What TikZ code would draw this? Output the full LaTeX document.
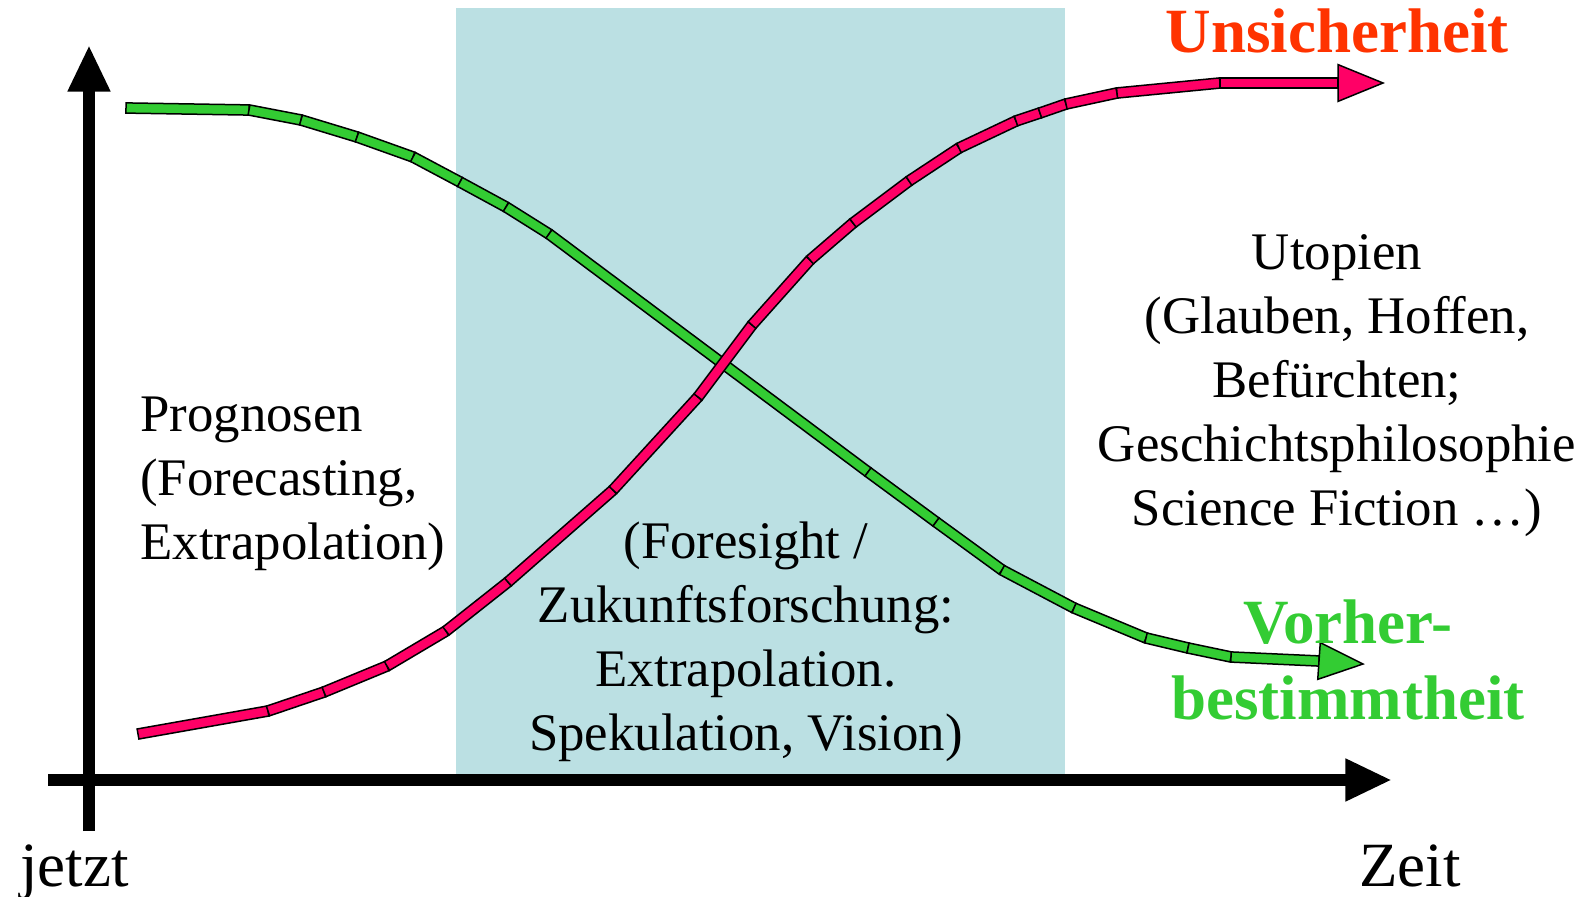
\documentclass[tikz,border=0pt]{standalone}
\usepackage{fontspec}
\setmainfont{Liberation Serif}
\usetikzlibrary{calc,arrows.meta}
\definecolor{boxblue}{HTML}{BBE0E3}
\definecolor{curvered}{HTML}{FF0066}
\definecolor{curvegreen}{HTML}{33CC33}
\definecolor{labelred}{HTML}{FF3300}
\newcommand\curvehw{2.55pt}
\newcommand\arrowhw{9.2pt}
\newcommand\curveseg[3]{%
  \filldraw[curveline,fill=#3] ($(#1)!\curvehw!90:(#2)$) -- ($(#2)!\curvehw!-90:(#1)$) -- ($(#2)!\curvehw!90:(#1)$) -- ($(#1)!\curvehw!-90:(#2)$) -- cycle;}
\newcommand\curvehead[3]{%
  \filldraw[curveline,fill=#3] ($(#1)!\arrowhw!90:(#2)$) -- (#2) -- ($(#1)!\arrowhw!-90:(#2)$) -- cycle;}
\tikzset{
  curveline/.style={draw=black,line width=0.75pt,line join=miter},
  axisline/.style={line width=6.35pt,-{Triangle[length=23.3pt,width=19.8pt]}},
  txt/.style={inner sep=0pt,font=\fontsize{26.4}{32}\selectfont},
  bigtxt/.style={inner sep=0pt,font=\fontsize{31.5}{38}\selectfont},
  boldlbl/.style={inner sep=0pt,font=\fontsize{31.5}{38}\selectfont\bfseries},
}
\begin{document}
\begin{tikzpicture}[x=0.5pt,y=-0.5pt]
\useasboundingbox (0,0) rectangle (1590,897);
% blue region
\fill[boxblue] (456,8) rectangle (1065,775);
% axes
\coordinate (hstart) at (48,780);
\coordinate (htip) at (1392,780);
\coordinate (vstart) at (89,831);
\coordinate (vtip) at (89,45);
\draw[axisline] (hstart) -- (htip);
\draw[axisline] (vstart) -- (vtip);
% green curve
\foreach \n/\p in {0/{126,108},1/{249,110},2/{301,120},3/{357,137},4/{413,157},5/{460,182},6/{506,207},7/{549,234},8/{868,472},9/{936,522},10/{1002,570},11/{1074,608},12/{1146,638},13/{1188,648},14/{1231,657},15/{1319,661},16/{1363,664}}
  {\coordinate (G\n) at (\p);}
\foreach \a/\b in {0/1,1/2,2/3,3/4,4/5,5/6,6/7,7/8,8/9,9/10,10/11,11/12,12/13,13/14,14/15}
  {\curveseg{G\a}{G\b}{curvegreen}}
\curvehead{G15}{G16}{curvegreen}
% red curve
\foreach \n/\p in {0/{138,734},1/{268,711},2/{324,692},3/{387,666},4/{446,631},5/{508,582},6/{613,490},7/{698,397},8/{752,325},9/{810,260},10/{853,223},11/{909,181},12/{959,148},13/{1016,121},14/{1040,113},15/{1066,104},16/{1117,93},17/{1220,83},18/{1338,83},19/{1383,83}}
  {\coordinate (R\n) at (\p);}
\foreach \a/\b in {0/1,1/2,2/3,3/4,4/5,5/6,6/7,7/8,8/9,9/10,10/11,11/12,12/13,13/14,14/15,15/16,16/17,17/18}
  {\curveseg{R\a}{R\b}{curvered}}
\curvehead{R18}{R19}{curvered}
% texts
\node[txt,anchor=north west,align=left] (prog) at (140,386)
  {\strut Prognosen\\(Forecasting,\\Extrapolation)};
\node[txt,anchor=north,align=center] (fore) at (746,513)
  {\strut(Foresight /\\Zukunftsforschung:\\Extrapolation.\\Spekulation, Vision)};
\node[txt,anchor=north,align=center] (utop) at (1337,224)
  {\strut Utopien\\(Glauben, Hoffen,\\Befürchten;\\Geschichtsphilosophie\\Science Fiction …)};
\node[boldlbl,text=labelred,anchor=base] (unsi) at (1337,53) {Unsicherheit};
\node[boldlbl,text=curvegreen,anchor=north,align=center] (vorh) at (1348,590)
  {\strut Vorher-\\bestimmtheit};
\node[bigtxt,anchor=base west] (jetzt) at (20,886) {jetzt};
\node[bigtxt,anchor=base west] (zeit) at (1359,886) {Zeit};
\end{tikzpicture}
\end{document}
